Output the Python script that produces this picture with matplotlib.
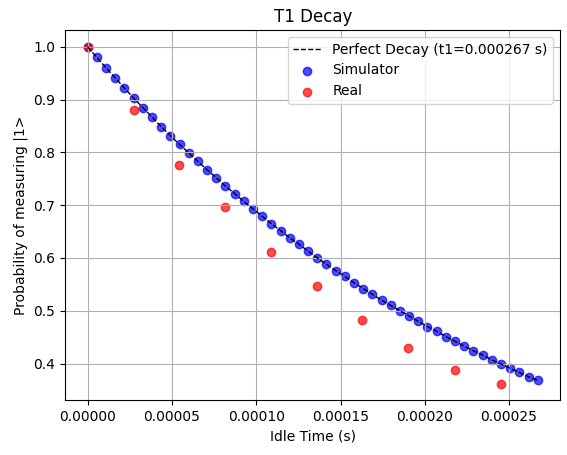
import matplotlib
matplotlib.use("Agg")
import matplotlib.pyplot as plt
from matplotlib.ticker import FormatStrFormatter
import numpy as np

t1 = 0.000267
sim_times = np.linspace(0, t1, 50)
sim_probs = [1.000, 0.980, 0.960, 0.941, 0.922, 0.903, 0.885, 0.867, 0.849, 0.832,
             0.815, 0.799, 0.783, 0.767, 0.752, 0.736, 0.722, 0.707, 0.693, 0.679,
             0.665, 0.652, 0.638, 0.626, 0.613, 0.600, 0.588, 0.576, 0.565, 0.553,
             0.542, 0.531, 0.520, 0.510, 0.500, 0.490, 0.480, 0.470, 0.461, 0.451,
             0.442, 0.433, 0.424, 0.416, 0.407, 0.399, 0.391, 0.383, 0.375, 0.368]
real_times = [0, 0.0000272, 0.0000544, 0.0000816, 0.000109, 0.000136,
              0.000163, 0.000190, 0.000218, 0.000245]
real_probs = [1.0, 0.881, 0.776, 0.696, 0.612, 0.546, 0.483, 0.430, 0.388, 0.362]

fig, ax = plt.subplots(figsize=(5.67, 4.55), dpi=100)
ax.plot(sim_times, sim_probs, 'k--', linewidth=1, label=f'Perfect Decay (t1={t1} s)')
ax.scatter(sim_times, sim_probs, color='blue', alpha=0.7, label='Simulator')
ax.scatter(real_times, real_probs, color='red', alpha=0.7, label='Real')
ax.xaxis.set_major_formatter(FormatStrFormatter('%.5f'))
ax.set_xticks([0, 0.00005, 0.0001, 0.00015, 0.0002, 0.00025])
ax.set_xlabel('Idle Time (s)')
ax.set_ylabel('Probability of measuring |1>')
ax.set_title('T1 Decay')
ax.grid(True)
ax.legend()
fig.subplots_adjust(left=0.115, right=0.988, top=0.934, bottom=0.12)
fig.savefig('out.png')
